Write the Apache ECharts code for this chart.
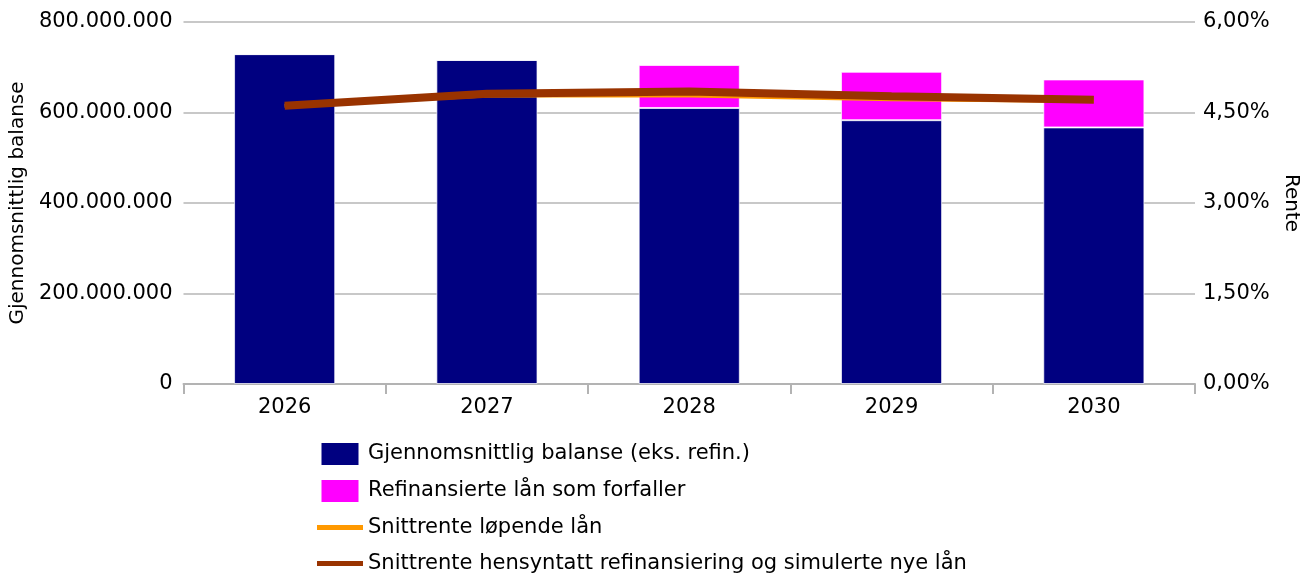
<!DOCTYPE html>
<html>
<head>
<meta charset="utf-8">
<script src="https://cdn.jsdelivr.net/npm/echarts@6/dist/echarts.min.js"></script>
<style>
  html, body { margin: 0; padding: 0; background: #fff; }
  #chart { width: 1310px; height: 576px; }
</style>
</head>
<body>
<div id="chart"></div>
<script>
// år på x-aksen
const years = ['2026', '2027', '2028', '2029', '2030'];

// balanse (kr)
const balanseEksRefin = [729000000, 716000000, 610000000, 583000000, 567000000];
const refinansierte = [0, 0, 95000000, 107000000, 106000000];

// renter (%)
const snittrenteLopende = [4.61, 4.78, 4.78, 4.72, 4.69];
const snittrenteRefin = [4.61, 4.81, 4.85, 4.77, 4.71];

const seriesNames = [
  'Gjennomsnittlig balanse (eks. refin.)',
  'Refinansierte lån som forfaller',
  'Snittrente løpende lån',
  'Snittrente hensyntatt refinansiering og simulerte nye lån'
];

const font = 'DejaVu Sans';
const fs = 21;
const gridColor = '#c8c8c8';
const boxIcon = 'path://M0,0H37V22H0Z';
const lineIcon = 'path://M0,0H46V5H0Z';

function fmtKr(v) {
  return String(Math.round(v)).replace(/\B(?=(\d{3})+(?!\d))/g, '.');
}
function fmtPct(v) {
  return v.toFixed(2).replace('.', ',') + '%';
}

const chart = echarts.init(document.getElementById('chart'));

const option = {
  animation: false,
  textStyle: { fontFamily: font },
  grid: { left: 183, right: 115, top: 22, bottom: 192 },
  legend: {
    orient: 'vertical',
    left: 317,
    top: 443,
    padding: 0,
    itemWidth: 46,
    itemHeight: 22,
    itemGap: 15,
    symbolKeepAspect: true,
    textStyle: { fontFamily: font, fontSize: fs, color: '#000' },
    data: [
      { name: seriesNames[0], icon: boxIcon, itemStyle: { color: '#000080', borderWidth: 0 } },
      { name: seriesNames[1], icon: boxIcon, itemStyle: { color: '#ff00ff', borderWidth: 0 } },
      { name: seriesNames[2], icon: lineIcon, itemStyle: { color: '#ff9900' } },
      { name: seriesNames[3], icon: lineIcon, itemStyle: { color: '#993300' } }
    ]
  },
  xAxis: {
    type: 'category',
    data: years,
    axisLine: { lineStyle: { color: '#b3b3b3', width: 2 } },
    axisTick: { show: true, length: 10, lineStyle: { color: '#b3b3b3', width: 2 } },
    axisLabel: { color: '#000', fontSize: fs, margin: 13 }
  },
  yAxis: [
    {
      type: 'value',
      min: 0,
      max: 800000000,
      interval: 200000000,
      name: 'Gjennomsnittlig balanse',
      nameLocation: 'middle',
      nameGap: 155,
      nameTextStyle: { color: '#000', fontSize: 20 },
      axisLine: { show: false },
      axisTick: { show: false },
      axisLabel: { color: '#000', fontSize: fs, margin: 11, formatter: fmtKr },
      splitLine: { lineStyle: { color: gridColor, width: 2 } }
    },
    {
      type: 'value',
      min: 0,
      max: 6,
      interval: 1.5,
      name: 'Rente',
      nameLocation: 'middle',
      nameRotate: -90,
      nameGap: 86,
      nameTextStyle: { color: '#000', fontSize: 20 },
      axisLine: { show: false },
      axisTick: { show: false },
      axisLabel: { color: '#000', fontSize: fs, margin: 8, formatter: fmtPct },
      splitLine: { show: false }
    }
  ],
  series: [
    {
      name: seriesNames[0],
      type: 'bar',
      stack: 'balanse',
      barWidth: '50%',
      data: balanseEksRefin,
      itemStyle: { color: '#000080', borderColor: 'rgba(255,255,255,0.7)', borderWidth: 1 }
    },
    {
      name: seriesNames[1],
      type: 'bar',
      stack: 'balanse',
      barWidth: '50%',
      data: refinansierte,
      itemStyle: { color: '#ff00ff', borderColor: 'rgba(255,255,255,0.7)', borderWidth: 1 }
    },
    {
      name: seriesNames[2],
      type: 'line',
      yAxisIndex: 1,
      data: snittrenteLopende,
      symbol: 'none',
      itemStyle: { color: '#ff9900' },
      lineStyle: { color: '#ff9900', width: 4, cap: 'butt' }
    },
    {
      name: seriesNames[3],
      type: 'line',
      yAxisIndex: 1,
      data: snittrenteRefin,
      symbol: 'none',
      itemStyle: { color: '#993300' },
      lineStyle: { color: '#993300', width: 8, cap: 'butt' }
    }
  ]
};

chart.setOption(option);
</script>
</body>
</html>
